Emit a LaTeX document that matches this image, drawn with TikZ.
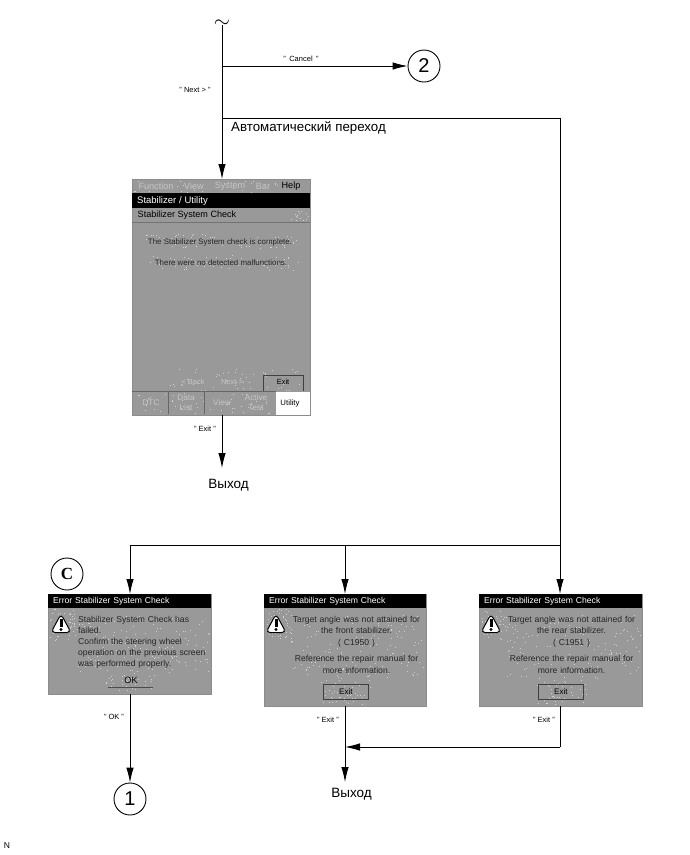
\documentclass[tikz,border=0pt]{standalone}
\usepackage{fontspec}
\setmainfont{Liberation Sans}
\newfontfamily\serifc{Liberation Serif}
\usetikzlibrary{arrows.meta,calc}
\definecolor{scr}{HTML}{999999}
\definecolor{dim}{HTML}{C6C6C6}
\definecolor{spk}{HTML}{CFCFCF}
\tikzset{
  flow/.style={line width=0.9pt,draw=black},
  arr/.style={flow,-{Latex[length=15pt,width=7.5pt]}},
  panel/.style={draw=black!45,line width=0.5pt,fill=scr,inner sep=0pt,anchor=north west},
  tbar/.style={fill=black,text=white,inner sep=0pt,anchor=north west,font=\fontsize{8.6}{10}\selectfont,align=left},
  lab/.style={inner sep=0pt,font=\fontsize{7.5}{8}\selectfont},
  big/.style={inner sep=0pt,font=\fontsize{13.5}{15}\selectfont},
  body/.style={inner sep=0pt,font=\fontsize{8.6}{11.5}\selectfont,text=black!85},
  mainbody/.style={inner sep=0pt,font=\fontsize{7.9}{10}\selectfont,text=black!85},
  mono/.style={inner sep=0pt,font=\fontsize{9.1}{10}\selectfont},
  tabtxt/.style={inner sep=0pt,font=\fontsize{8.2}{10}\selectfont,text=dim,align=center},
  bubble/.style={circle,draw=black,line width=0.9pt,minimum size=32pt,inner sep=0pt,fill=white,font=\fontsize{20}{22}\selectfont},
  btn/.style={draw=black!75,line width=0.7pt,inner sep=0pt,anchor=north west,font=\fontsize{8}{10}\selectfont},
}
\newcommand{\warnicon}[2]{%
  \fill[white,draw=black,line width=1pt,line join=round,rounded corners=4pt] (#1-10,#2+8.5) -- (#1,#2-10) -- (#1+10,#2+8.5) -- cycle;
  \fill[black] (#1-1.5,#2-5) rectangle (#1+1.5,#2+2.5);
  \fill[black] (#1,#2+5.5) circle (1.6);
}
% dithered speckle of the screenshots: #1,#2 to #3,#4 corners, #5 dots
\newcommand{\speck}[5]{%
  \foreach \i in {1,...,#5}{%
    \pgfmathsetmacro{\sx}{#1+rnd*(#3-#1)}%
    \pgfmathsetmacro{\sy}{#2+rnd*(#4-#2)}%
    \fill[spk] (\sx,\sy) rectangle +(0.9,0.9);
  }%
}
\begin{document}
\begin{tikzpicture}[x=1pt,y=-1pt]
\useasboundingbox (0,0) rectangle (690,855);
\fill[white] (0,0) rectangle (690,855);
\pgfmathsetseed{4711}

% main screen
\node[panel,minimum width=178pt,minimum height=236pt] (main) at (132,179) {};
\speck{134}{180}{280}{192}{25}
\speck{290}{209}{308}{221}{14}
\speck{145}{234}{296}{248}{70}
\speck{148}{255}{298}{270}{70}
\speck{165}{367}{300}{390}{50}
\speck{134}{393}{274}{414}{50}
\node[tbar,minimum width=178pt,minimum height=15pt,text width=178pt] (mtitle) at (132,193) {\hspace{5pt}\fontsize{9.5}{10}\selectfont Stabilizer / Utility};
\node[mono,anchor=west] (msub) at (137.5,215) {Stabilizer System Check};
\draw[black!55,line width=0.7pt] (132,222) -- (310,222);
\foreach \n/\t/\x in {m1/Function/156,m2/View/194,m3/System/230,m4/Bar/263}
  \node[mono,text=dim] (\n) at (\x,186) {\t};
\node[mono,text=black] (m5) at (291,186) {Help};
\node[mainbody] (c1) at (220,242) {The Stabilizer System check is complete.};
\node[mainbody] (c2) at (221,263) {There were no detected malfunctions.};
\node[lab,text=dim] (bk) at (193,381.5) {< Back};
\node[lab,text=dim] (nx) at (232,381.5) {Next >};
\draw[black!75,line width=0.7pt] (263,391) -- (263,375) -- (303,375) -- (303,391);
\node[lab] (extxt) at (283,382) {Exit};
\draw[black!60,line width=0.7pt] (132,391.5) -- (276,391.5);
\draw[black!60,line width=0.7pt] (168,391.5) -- (168,414);
\draw[black!60,line width=0.7pt] (204,391.5) -- (204,414);
\node[tabtxt] (t1) at (151,403) {DTC};
\node[tabtxt] (t2) at (186,403) {Data\\List};
\node[tabtxt] (t3) at (222,403) {View};
\node[tabtxt] (t4) at (256,403) {Active\\Test};
\node[fill=white,inner sep=0pt,minimum width=34pt,minimum height=23pt,anchor=north west] (t5box) at (276,391.5) {};
\node[inner sep=0pt,font=\fontsize{7.8}{10}\selectfont] (t5) at (290,403) {Utility};

% dialog C
\node[panel,minimum width=163pt,minimum height=100pt] (dc) at (48,594) {};
\speck{50}{609}{75}{640}{40}
\speck{75}{615}{209}{672}{150}
\speck{105}{672}{158}{690}{40}
\node[tbar,minimum width=163pt,minimum height=14pt,text width=163pt] (dct) at (48,594) {\hspace{5pt}\raisebox{-1pt}{Error Stabilizer System Check}};
\warnicon{61}{624}
\node[body,anchor=north west,text width=132pt,align=left,font=\fontsize{8.6}{11}\selectfont] (dctxt) at (78,616) {Stabilizer System Check has\\failed.\\Confirm the steering wheel\\operation on the previous screen\\was performed properly.};
\node[mono] (okt) at (131,680) {OK};
\draw[black!70,line width=0.7pt] (108,687) -- (153,687);

% dialog front
\node[panel,minimum width=162pt,minimum height=112pt] (df) at (264,594) {};
\speck{266}{609}{290}{640}{40}
\speck{290}{615}{424}{678}{150}
\speck{320}{680}{372}{704}{45}
\node[tbar,minimum width=162pt,minimum height=14pt,text width=162pt] (dft) at (264,594) {\hspace{5pt}\raisebox{-1pt}{Error Stabilizer System Check}};
\warnicon{276}{624}
\node[body,text width=140pt,align=center,anchor=north] (dftxt) at (356.5,616) {Target angle was not attained for\\the front stabilizer.\\( C1950 )\\[5pt]Reference the repair manual for\\more information.};
\node[btn,minimum width=45pt,minimum height=15pt] (bf) at (323,684) {Exit};

% dialog rear
\node[panel,minimum width=163pt,minimum height=112pt] (dr) at (479,594) {};
\speck{481}{609}{505}{640}{40}
\speck{505}{615}{640}{678}{150}
\speck{535}{680}{587}{704}{45}
\node[tbar,minimum width=163pt,minimum height=14pt,text width=163pt] (drt) at (479,594) {\hspace{5pt}\raisebox{-1pt}{Error Stabilizer System Check}};
\warnicon{491}{624}
\node[body,text width=140pt,align=center,anchor=north] (drtxt) at (571.5,616) {Target angle was not attained for\\the rear stabilizer.\\( C1951 )\\[5pt]Reference the repair manual for\\more information.};
\node[btn,minimum width=45pt,minimum height=15pt] (br) at (538,684) {Exit};

% end nodes
\node[inner sep=0pt,font=\fontsize{21}{22}\selectfont] (top) at (222,24) {$\sim$};
\node[bubble] (two) at (424,66) {2};
\node[bubble] (one) at (130,799) {1};
\node[bubble,font=\serifc\bfseries\fontsize{17}{20}\selectfont] (cc) at (67,574) {C};
\node[big] (out1) at (228.5,485) {Выход};
\node[big] (out2) at (351.5,794) {Выход};
\node[inner sep=0pt,font=\fontsize{8.5}{10}\selectfont] (nn) at (7,846) {N};

% junctions
\coordinate (jc) at (222,66);
\coordinate (ja) at (222,118);
\coordinate (jb) at (560,118);
\coordinate (jr) at (560,545);
\coordinate (jl) at (130,545);
\coordinate (jm) at (345,545);
\coordinate (je) at (560,747);
\coordinate (jx) at (345,747);

% connectors
\draw[arr] (222,25) -- (222,179);
\draw[arr] (jc) -- (two.west);
\draw[flow] (ja) -- (jb) -- (jr);
\draw[arr] (jr) -- (560,594);
\draw[flow] (jl) -- (jr);
\draw[arr] (jl) -- (130,594);
\draw[arr] (jm) -- (345,594);
\draw[arr] (222,415) -- (222,468);
\draw[arr] (130,694) -- (one.north);
\draw[arr] (345,706) -- (345,782);
\draw[flow] (560,706) -- (je);
\draw[arr] (je) -- (jx);

% labels
\node[lab] (lc) at (301,59) {"\ \,Cancel\ \,"};
\node[lab] (ln) at (195,90) {"\ Next\ >\ "};
\node[inner sep=0pt,anchor=west,font=\fontsize{13.3}{15}\selectfont] (la) at (231,128) {Автоматический переход};
\node[lab] (le) at (205,429) {"\ Exit\ "};
\node[lab] (lo) at (114,717) {"\ OK\ "};
\node[lab] (lf) at (328,720) {"\ Exit\ "};
\node[lab] (lr) at (544,720) {"\ Exit\ "};
\end{tikzpicture}
\end{document}
